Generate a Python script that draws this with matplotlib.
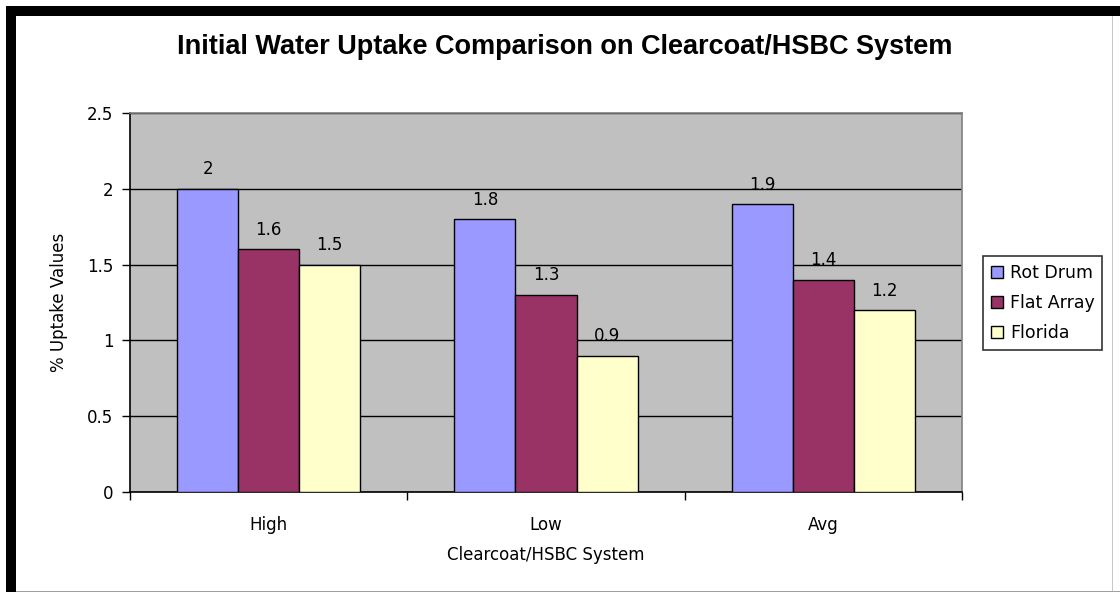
import matplotlib
matplotlib.use("Agg")
import matplotlib.pyplot as plt
from matplotlib.patches import Rectangle
from matplotlib.ticker import FixedLocator
import numpy as np

plt.rcParams['font.family'] = ['DejaVu Sans']

categories = ["High", "Low", "Avg"]
series_names = ["Rot Drum", "Flat Array", "Florida"]
rot_drum = [2.0, 1.8, 1.9]
flat_array = [1.6, 1.3, 1.4]
florida = [1.5, 0.9, 1.2]
value_labels = [["2", "1.8", "1.9"], ["1.6", "1.3", "1.4"], ["1.5", "0.9", "1.2"]]
colors = ["#9999FF", "#993366", "#FFFFCC"]
yticks = [0, 0.5, 1, 1.5, 2, 2.5]
ytick_labels = ["0", "0.5", "1", "1.5", "2", "2.5"]

FS = 12
fig = plt.figure(figsize=(11.2, 5.92), dpi=100)
ax = fig.add_axes([130/1120, 1-492/592, 832/1120, 379/592])
ax.set_facecolor("#C0C0C0")

x = np.arange(len(categories))
w = 0.22
for i, (vals, c, name) in enumerate(zip([rot_drum, flat_array, florida], colors, series_names)):
    bars = ax.bar(x + (i-1)*w, vals, width=w, color=c, edgecolor="black", linewidth=1.0, label=name, zorder=3)
    for b, lab in zip(bars, value_labels[i]):
        ax.annotate(lab, (b.get_x()+b.get_width()/2, b.get_height()), xytext=(0, 14),
                    textcoords="offset points", ha="center", va="center", fontsize=FS)

ax.set_xlim(-0.5, 2.5)
ax.set_ylim(0, 2.5)
ax.set_yticks(yticks)
ax.set_yticklabels(ytick_labels, fontsize=FS)
ax.yaxis.grid(True, color="black", linewidth=1.0, zorder=1)
ax.set_axisbelow(True)
ax.set_xticks(x)
ax.set_xticklabels(categories, fontsize=FS)
ax.tick_params(axis="x", which="major", length=0, pad=17)
ax.xaxis.set_minor_locator(FixedLocator([-0.5, 0.5, 1.5, 2.5]))
ax.tick_params(axis="x", which="minor", length=6, width=1.0, direction="out")
ax.tick_params(axis="y", length=6, width=1.0, direction="out", pad=6)
for s in ["left", "bottom"]:
    ax.spines[s].set_color("black")
    ax.spines[s].set_linewidth(1.2)
for s in ["top", "right"]:
    ax.spines[s].set_color("#808080")
    ax.spines[s].set_linewidth(1.2)

ax.set_xlabel("Clearcoat/HSBC System", fontsize=FS, labelpad=9)
ax.set_ylabel("% Uptake Values", fontsize=FS, labelpad=14)

fig.text(0.5045, 1-47/592, "Initial Water Uptake Comparison on Clearcoat/HSBC System",
         ha="center", va="center", fontsize=19.5, fontweight="bold", family="Liberation Sans")

leg = ax.legend(loc="upper left", bbox_to_anchor=((983-130)/832, (492-256)/379),
                frameon=True, fancybox=False, edgecolor="black", fontsize=12.5,
                handlelength=0.7, handleheight=0.7, handletextpad=0.4,
                borderpad=0.45, labelspacing=0.7, borderaxespad=0)
leg.get_frame().set_linewidth(1.2)
leg.set_zorder(10)

# Black frame of the original image
fig.patches.append(Rectangle((6/1120, 1-16/592), 1, 10/592, transform=fig.transFigure,
                             facecolor="black", edgecolor="none"))
fig.patches.append(Rectangle((6/1120, 0), 10/1120, 1-6/592, transform=fig.transFigure,
                             facecolor="black", edgecolor="none"))
fig.patches.append(Rectangle((1112/1120, 0), 1/1120, 1-16/592, transform=fig.transFigure,
                             facecolor="#C8C8C8", edgecolor="none"))
fig.patches.append(Rectangle((16/1120, 0), 1, 1.5/592, transform=fig.transFigure,
                             facecolor="#A0A0A0", edgecolor="none"))

fig.savefig("out.png", dpi=100)
